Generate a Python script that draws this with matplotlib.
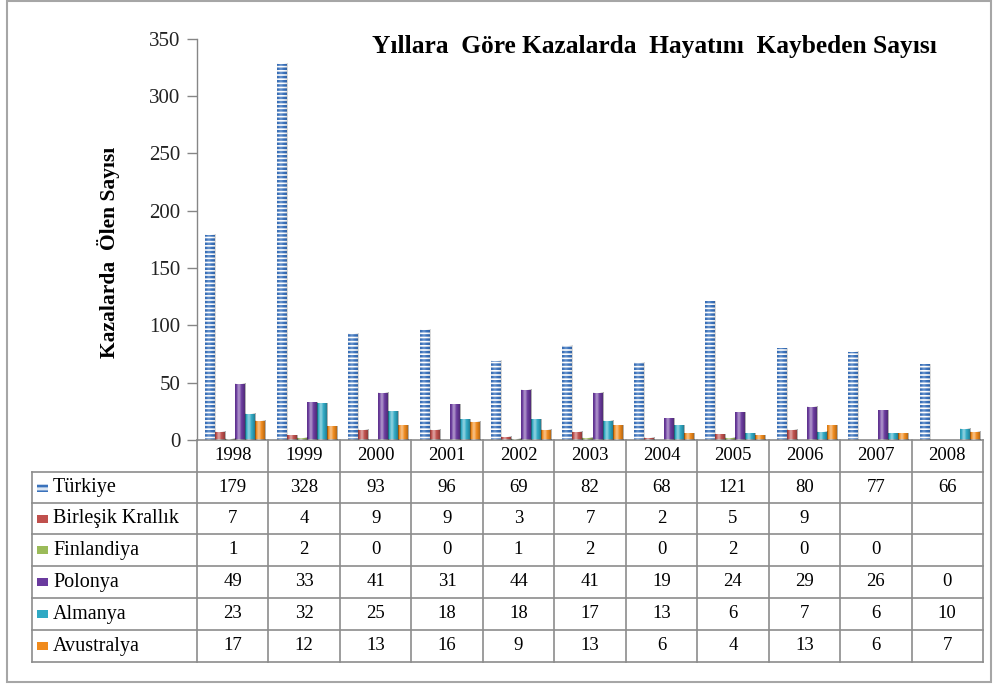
import numpy as np
import matplotlib
matplotlib.use("Agg")
import matplotlib.pyplot as plt
from matplotlib.patches import Rectangle
from matplotlib.lines import Line2D

plt.rcParams['font.family'] = ['Liberation Serif', 'DejaVu Serif']
plt.rcParams['hatch.linewidth'] = 1.8

years = ['1998', '1999', '2000', '2001', '2002', '2003', '2004', '2005', '2006', '2007', '2008']
series_names = ['Türkiye', 'Birleşik Krallık', 'Finlandiya', 'Polonya', 'Almanya', 'Avustralya']
turkiye = [179, 328, 93, 96, 69, 82, 68, 121, 80, 77, 66]
birlesik = [7, 4, 9, 9, 3, 7, 2, 5, 9, None, None]
finlandiya = [1, 2, 0, 0, 1, 2, 0, 2, 0, 0, None]
polonya = [49, 33, 41, 31, 44, 41, 19, 24, 29, 26, 0]
almanya = [23, 32, 25, 18, 18, 17, 13, 6, 7, 6, 10]
avustralya = [17, 12, 13, 16, 9, 13, 6, 4, 13, 6, 7]
series_values = [turkiye, birlesik, finlandiya, polonya, almanya, avustralya]
colors = ['#3A72BC', '#C0504D', '#9BBB59', '#6A3A9E', '#2FA9C4', '#F08A1C']

title = 'Yıllara  Göre Kazalarda  Hayatını  Kaybeden Sayısı'
ylabel = 'Kazalarda  Ölen Sayısı'
yticks = [0, 50, 100, 150, 200, 250, 300, 350]

W, H = 993, 684
fig = plt.figure(figsize=(W / 100, H / 100), dpi=100)
fig.patch.set_facecolor('white')

# outer frame
fig.patches.append(Rectangle((7 / W, 1 - 682 / H), (991 - 7) / W, (682 - 1) / H,
                             transform=fig.transFigure, fill=False,
                             edgecolor='#A6A6A6', linewidth=1.5, zorder=0))

ax_l, ax_r, ax_b, ax_t = 197, 983, 440, 38.6
ax = fig.add_axes([ax_l / W, 1 - ax_b / H, (ax_r - ax_l) / W, (ax_b - ax_t) / H])
axw, axh = ax_r - ax_l, ax_b - ax_t

n = len(years)
step = 0.14
shift = 0.035
x = np.arange(n) + 0.5


def shade_overlay(x0, x1, h, z, strength=1.0):
    t = np.linspace(0, 1, 64)
    s = strength * (0.45 * np.exp(-((t - 0.35) / 0.18) ** 2)
                    - 0.35 * (np.abs(t - 0.4) / 0.6) ** 2)
    rgba = np.zeros((1, len(t), 4))
    pos = s > 0
    rgba[0, pos, :3] = 1.0
    rgba[0, ~pos, :3] = 0.0
    rgba[0, :, 3] = np.clip(np.abs(s), 0, 1)
    ax.imshow(rgba, extent=(x0, x1, 0, h), aspect='auto', interpolation='bilinear',
              zorder=z, origin='lower')


for k, (name, vals, col) in enumerate(zip(series_names, series_values, colors)):
    off = (k - 2.5) * step + shift
    for i, v in enumerate(vals):
        if v is None or v == 0:
            continue
        xc = x[i] + off
        if k == 0:
            ax.bar(xc, v, width=step, facecolor='white', edgecolor=col, hatch='----',
                   linewidth=0, zorder=2)
            shade_overlay(xc - step / 2, xc + step / 2, v, 3, strength=0.5)
        else:
            ax.bar(xc, v, width=step, color=col, linewidth=0, zorder=2)
            shade_overlay(xc - step / 2, xc + step / 2, v, 3)

ax.set_xlim(0, n)
ax.set_ylim(0, 350)
ax.set_aspect('auto')
ax.set_yticks(yticks)
ax.set_xticks([])
for sp in ['top', 'right', 'bottom']:
    ax.spines[sp].set_visible(False)
ax.spines['left'].set_color('#868686')
ax.spines['left'].set_linewidth(1.0)
ax.tick_params(axis='y', direction='out', length=7, width=1.0, color='#868686',
               labelsize=15, pad=5, labelcolor='#222222')
ax.patch.set_alpha(0)

ax.set_ylabel(ylabel, fontsize=15.5, fontweight='bold')
ax.yaxis.set_label_coords((120 - ax_l) / axw, (ax_b - 252) / axh)

ax.text((372 - ax_l) / axw, (ax_b - 47) / axh, title, transform=ax.transAxes,
        fontsize=18.3, fontweight='bold', ha='left', va='center')

# data table
row_px = [440, 472, 503, 534, 566, 598, 630, 662]
row_y = [(ax_b - p) / axh for p in row_px]
left_x = (32 - ax_l) / axw
grid_col = '#8C8C8C'
lw = 1.2


def hline(y, xa, xb):
    ax.add_line(Line2D([xa, xb], [y, y], transform=ax.transAxes, color=grid_col,
                       linewidth=lw, clip_on=False))


def vline(xv, ya, yb, trans):
    ax.add_line(Line2D([xv, xv], [ya, yb], transform=trans, color=grid_col,
                       linewidth=lw, clip_on=False))


hline(row_y[0], 0, 1)
for yy in row_y[1:]:
    hline(yy, left_x, 1)
vline(left_x, row_y[1], row_y[-1], ax.transAxes)
blend = matplotlib.transforms.blended_transform_factory(ax.transData, ax.transAxes)
for j in range(n + 1):
    vline(j, row_y[0], row_y[-1], blend)

for i, yr in enumerate(years):
    ax.text(x[i], (row_y[0] + row_y[1]) / 2, yr, transform=blend, ha='center',
            va='center', fontsize=13.5)

for r, (name, vals, col) in enumerate(zip(series_names, series_values, colors)):
    yc = (row_y[r + 1] + row_y[r + 2]) / 2
    kx = (37 - ax_l) / axw
    kw = 11 / axw
    kh = 8 / axh
    if r == 0:
        ax.add_patch(Rectangle((kx, yc - kh / 2), kw, kh, transform=ax.transAxes,
                               facecolor='#DCE6F2', edgecolor=col, hatch='---',
                               linewidth=0, clip_on=False))
    else:
        ax.add_patch(Rectangle((kx, yc - kh / 2), kw, kh, transform=ax.transAxes,
                               facecolor=col, linewidth=0, clip_on=False))
    ax.text((53 - ax_l) / axw, yc, name, transform=ax.transAxes, ha='left',
            va='center', fontsize=14.5)
    for i, v in enumerate(vals):
        if v is None:
            continue
        ax.text(x[i], yc, str(v), transform=blend, ha='center', va='center',
                fontsize=13.5)

fig.savefig('out.png', dpi=100)
